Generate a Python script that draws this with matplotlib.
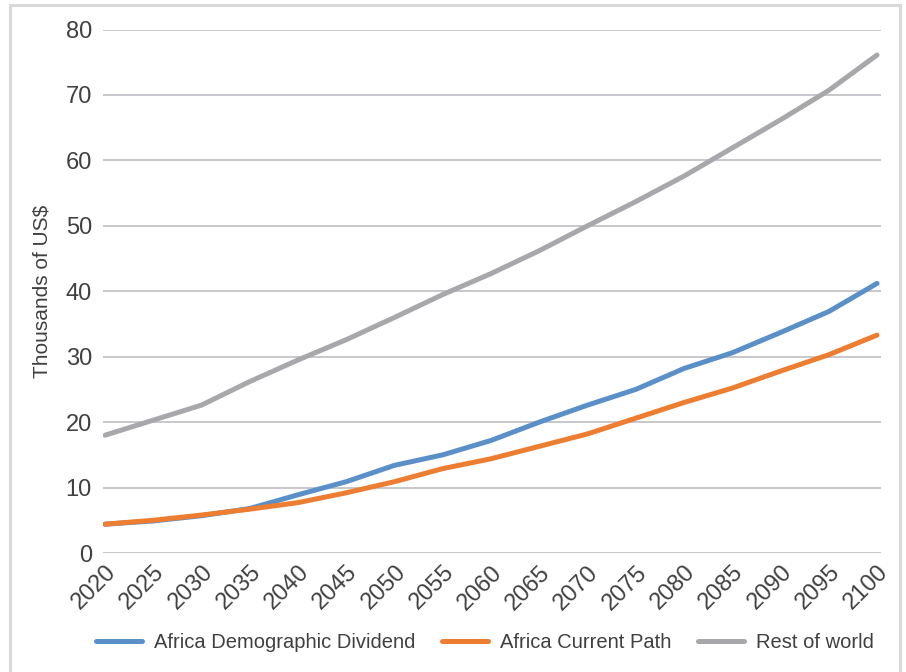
import matplotlib
matplotlib.use("Agg")
import matplotlib.pyplot as plt
from matplotlib.patches import Rectangle

years = [2020, 2025, 2030, 2035, 2040, 2045, 2050, 2055, 2060,
         2065, 2070, 2075, 2080, 2085, 2090, 2095, 2100]

demographic_dividend = [4.4, 4.9, 5.7, 6.8, 8.9, 10.9, 13.4, 15.0, 17.2,
                        20.0, 22.6, 25.0, 28.2, 30.6, 33.7, 36.9, 41.2]
current_path = [4.4, 5.0, 5.8, 6.7, 7.7, 9.2, 10.9, 12.9, 14.4,
                16.3, 18.2, 20.6, 23.0, 25.2, 27.8, 30.3, 33.3]
rest_of_world = [18.0, 20.3, 22.6, 26.2, 29.5, 32.6, 36.0, 39.5, 42.7,
                 46.2, 50.0, 53.7, 57.6, 61.9, 66.2, 70.7, 76.1]

labels = ["Africa Demographic Dividend", "Africa Current Path", "Rest of world"]
colors = ["#5b8fc8", "#ed7d31", "#a8a8ac"]

plt.rcParams["font.family"] = ["Liberation Sans", "DejaVu Sans"]
text_col = "#404040"

fig = plt.figure(figsize=(9.06, 6.72), dpi=100)
ax = fig.add_axes([103 / 906, 1 - 553 / 672, 778 / 906, 523.5 / 672])

# light frame round the chart
fig.patches.append(Rectangle((10 / 906, -0.05), 890 / 906, 1.05 - 5 / 672,
                             transform=fig.transFigure, fill=False,
                             edgecolor="#d9d9d9", linewidth=2.2))

for vals, lab, c in zip([demographic_dividend, current_path, rest_of_world], labels, colors):
    ax.plot(years, vals, color=c, linewidth=3.6, label=lab, solid_capstyle="round", zorder=3)

ax.set_ylim(0, 80)
ax.set_xlim(2019.79, 2100.41)
ax.set_yticks(range(0, 81, 10))
ax.set_xticks(years)
ax.set_xticklabels([str(y) for y in years], rotation=45, ha="right",
                   rotation_mode="anchor")
ax.grid(axis="y", color="#c8c8cc", linewidth=1.4)
ax.set_axisbelow(True)
for s in ax.spines.values():
    s.set_visible(False)
ax.tick_params(axis="both", length=0, labelsize=17, labelcolor=text_col)
ax.tick_params(axis="y", pad=8)
ax.tick_params(axis="x", pad=6)
ax.set_ylabel("Thousands of US$", fontsize=15, color=text_col, labelpad=10)

leg = fig.legend(loc="center", bbox_to_anchor=(0.535, 29 / 672), ncol=3,
                 frameon=False, fontsize=14.5, handlelength=2.3,
                 columnspacing=1.3, handletextpad=0.6)
for t in leg.get_texts():
    t.set_color(text_col)

fig.savefig("out.png", dpi=100)
